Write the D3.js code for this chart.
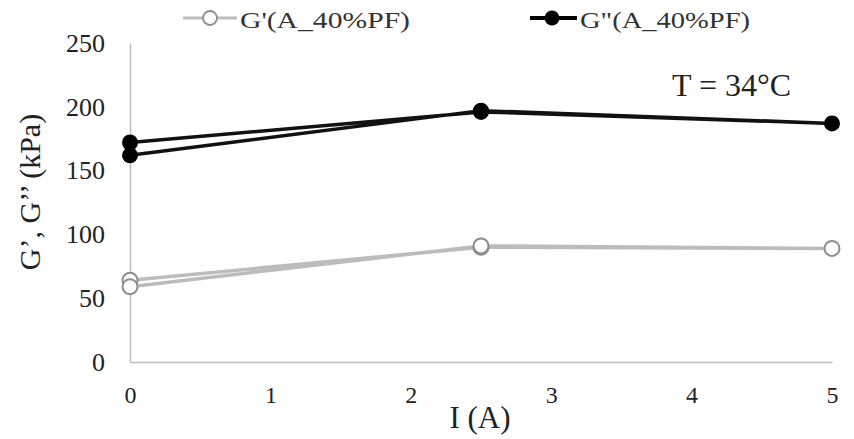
<!DOCTYPE html>
<html><head><meta charset="utf-8">
<script src="https://cdn.jsdelivr.net/npm/d3@7"></script>
<style>body{margin:0;background:#fff}svg{display:block}</style>
</head><body>
<script>
const currentA = [0, 2.5, 5, 2.5, 0];
const gPrime = [64, 90, 89, 91, 59];
const gDouble = [172, 196, 187, 197, 162];
const xTicks = [0, 1, 2, 3, 4, 5];
const yTicks = [0, 50, 100, 150, 200, 250];
const seriesNames = ["G'(A_40%PF)", "G\"(A_40%PF)"];

const W = 854, H = 439;
const FONT = "'Liberation Serif', 'Times New Roman', serif";
const svg = d3.select("body").append("svg").attr("width", W).attr("height", H);
const x = d3.scaleLinear().domain([0, 5]).range([130, 832]);
const y = d3.scaleLinear().domain([0, 250]).range([362, 43]);

// axes
const xAxis = svg.append("g").attr("transform", `translate(0,${y(0)})`)
  .call(d3.axisBottom(x).tickValues(xTicks).tickSize(0).tickPadding(24).tickFormat(d3.format("d")));
xAxis.attr("font-family", null);
xAxis.select(".domain").attr("stroke", "#bdbdbd").attr("stroke-width", 1.5);
xAxis.selectAll("text").style("font-family", FONT).style("font-size", "24px").attr("fill", "#222");

const yAxis = svg.append("g").attr("transform", `translate(${x(0)},0)`)
  .call(d3.axisLeft(y).tickValues(yTicks).tickSize(0).tickPadding(25));
yAxis.attr("font-family", null);
yAxis.select(".domain").attr("stroke", "#bdbdbd").attr("stroke-width", 1.5);
yAxis.selectAll("text").style("font-family", FONT).style("font-size", "26px").attr("fill", "#222");

const line = d3.line().x(d => x(d[0])).y(d => y(d[1]));
const d1 = currentA.map((c, i) => [c, gPrime[i]]);
const d2 = currentA.map((c, i) => [c, gDouble[i]]);

svg.append("path").attr("d", line(d1)).attr("fill", "none").attr("stroke", "#bcbcbc").attr("stroke-width", 3.5).attr("stroke-linejoin", "round");
svg.append("path").attr("d", line(d2)).attr("fill", "none").attr("stroke", "#111").attr("stroke-width", 3.5).attr("stroke-linejoin", "round");

svg.selectAll(".p1").data(d1).enter().append("circle")
  .attr("cx", d => x(d[0])).attr("cy", d => y(d[1])).attr("r", 7.5)
  .attr("fill", "#fff").attr("stroke", "#8c8c8c").attr("stroke-width", 2);
svg.selectAll(".p2").data(d2).enter().append("circle")
  .attr("cx", d => x(d[0])).attr("cy", d => y(d[1])).attr("r", 8)
  .attr("fill", "#000");

// legend
const lg = svg.append("g");
lg.append("line").attr("x1", 183).attr("x2", 237).attr("y1", 18).attr("y2", 18).attr("stroke", "#bcbcbc").attr("stroke-width", 3);
lg.append("circle").attr("cx", 210).attr("cy", 18).attr("r", 7).attr("fill", "#fff").attr("stroke", "#8c8c8c").attr("stroke-width", 1.8);
lg.append("text").attr("x", 240).attr("y", 28).attr("textLength", 170).attr("lengthAdjust", "spacingAndGlyphs")
  .style("font-family", FONT).style("font-size", "24px").attr("fill", "#333").text(seriesNames[0]);
lg.append("line").attr("x1", 530).attr("x2", 577).attr("y1", 18).attr("y2", 18).attr("stroke", "#000").attr("stroke-width", 4);
lg.append("circle").attr("cx", 552).attr("cy", 18).attr("r", 7.5).attr("fill", "#000");
lg.append("text").attr("x", 580).attr("y", 28).attr("textLength", 170).attr("lengthAdjust", "spacingAndGlyphs")
  .style("font-family", FONT).style("font-size", "24px").attr("fill", "#333").text(seriesNames[1]);

// titles
svg.append("text").attr("x", 480).attr("y", 428).attr("text-anchor", "middle").style("font-family", FONT).style("font-size", "31px").attr("fill", "#222").text("I (A)");
svg.append("text").attr("transform", "translate(40,192) rotate(-90)").attr("text-anchor", "middle").style("font-family", FONT).style("font-size", "30px").attr("fill", "#222").text("G’, G’’ (kPa)");
svg.append("text").attr("x", 672).attr("y", 96).style("font-family", FONT).style("font-size", "32px").attr("fill", "#222").text("T = 34°C");
</script>
</body></html>
